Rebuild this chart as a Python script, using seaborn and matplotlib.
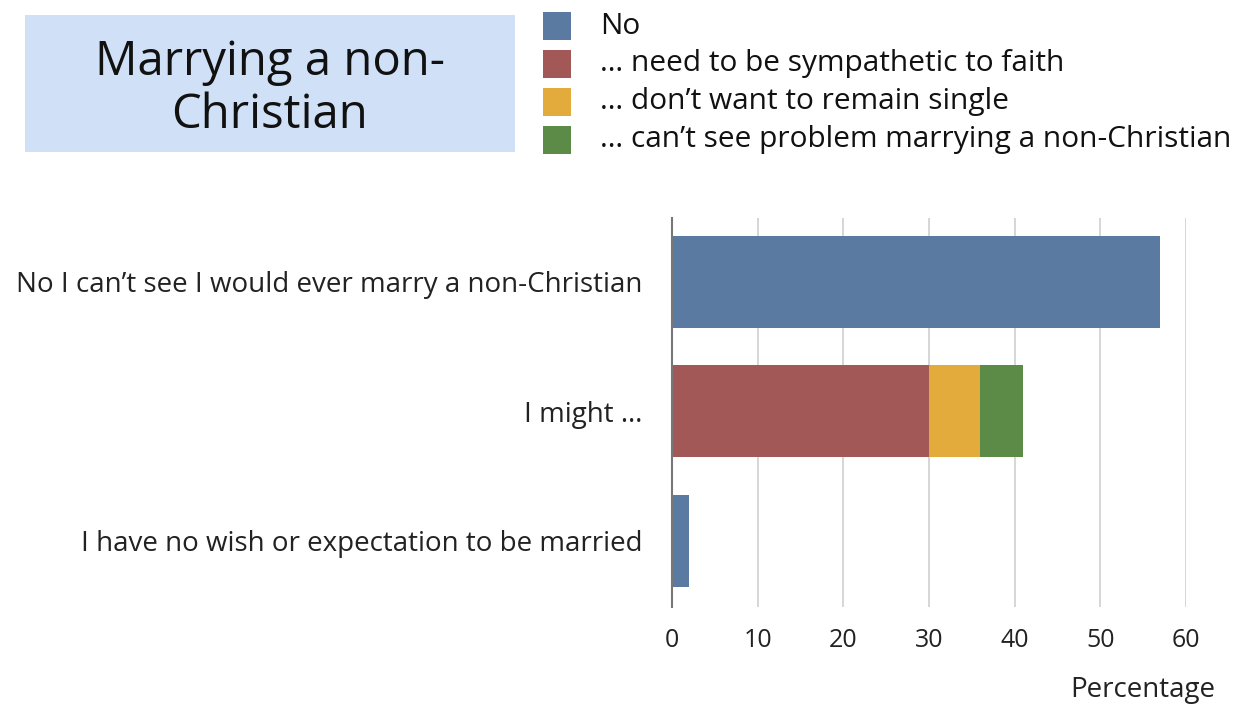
import matplotlib
matplotlib.use("Agg")
import matplotlib.pyplot as plt
from matplotlib.patches import Rectangle
import seaborn as sns
import pandas as pd
import numpy as np

# ---- data ----
categories = ["No I can\u2019t see I would ever marry a non-Christian",
              "I might \u2026",
              "I have no wish or expectation to be married"]
segments = ["No",
            "\u2026 need to be sympathetic to faith",
            "\u2026 don\u2019t want to remain single",
            "\u2026 can\u2019t see problem marrying a non-Christian"]
seg_no = [57, 0, 2]
seg_sympathetic = [0, 30, 0]
seg_single = [0, 6, 0]
seg_noproblem = [0, 5, 0]
colors = ["#5a7aa2", "#a35858", "#e3ab3c", "#5b8b47"]
xticks = [0, 10, 20, 30, 40, 50, 60]
title_text = "Marrying a non-\nChristian"
xlabel = "Percentage"

sns.set_theme(style="white")
plt.rcParams['font.family'] = ['Open Sans', 'DejaVu Sans']

fig = plt.figure(figsize=(12.48, 7.09), dpi=100)
W, H = 1248, 709
ax = fig.add_axes([672 / W, 1 - 607 / H, 514 / W, (607 - 218) / H])

df = pd.DataFrame({"category": categories,
                   "s0": seg_no, "s1": seg_sympathetic,
                   "s2": seg_single, "s3": seg_noproblem})
cols = ["s0", "s1", "s2", "s3"]
cum = df[cols].cumsum(axis=1)
# draw from the outermost stack inward so earlier segments overlay later
for i in reversed(range(len(cols))):
    vals = cum[cols[i]].where(df[cols[i]] > 0, 0)
    sns.barplot(x=vals, y=df["category"], order=categories, color=colors[i],
                orient="h", width=0.71, ax=ax, saturation=1, linewidth=0)

ax.set_xlim(0, 60)
ax.set_ylim(2.51, -0.49)
ax.set_xticks(xticks)
ax.set_xticklabels([str(t) for t in xticks], fontsize=18, color="#222222")
ax.tick_params(axis="x", length=0, pad=15)
ax.tick_params(axis="y", length=0, pad=21, labelsize=20, labelcolor="#222222")
ax.set_xlabel("")
ax.set_ylabel("")
for t in xticks[1:]:
    ax.axvline(t, color="#cfcfcf", lw=1.2, zorder=0)
for s in ["top", "right", "bottom"]:
    ax.spines[s].set_visible(False)
ax.spines["left"].set_color("#777777")
ax.spines["left"].set_linewidth(1.5)
ax.set_facecolor("white")

fig.text(1215 / W, 1 - 690 / H, xlabel, ha="right", va="center",
         fontsize=20, color="#222222")

# title box
fig.patches.append(Rectangle((25 / W, 1 - 152 / H), 490 / W, 137 / H,
                             transform=fig.transFigure, facecolor="#cfe0f7",
                             edgecolor="none", zorder=0))
fig.text(270 / W, 1 - 89 / H, title_text, ha="center", va="center",
         fontsize=34, color="#111111", linespacing=1.15)

# legend
ys = [26, 64, 102, 140]
for lab, c, y in zip(segments, colors, ys):
    fig.patches.append(Rectangle((543 / W, 1 - (y + 14) / H), 28 / W, 28 / H,
                                 transform=fig.transFigure, facecolor=c,
                                 edgecolor="none"))
    fig.text(600 / W, 1 - y / H, lab, ha="left", va="center",
             fontsize=21.5, color="#111111")

fig.savefig("out.png", dpi=100, facecolor="white")
